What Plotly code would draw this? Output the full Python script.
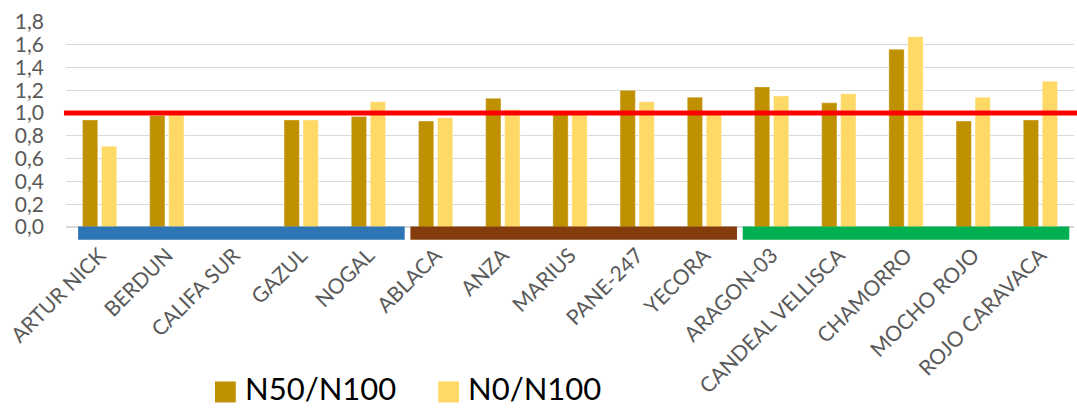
import plotly.graph_objects as go

# Varieties, grouped in three blocks of five
categories = [
    "ARTUR NICK", "BERDUN", "CALIFA SUR", "GAZUL", "NOGAL",
    "ABLACA", "ANZA", "MARIUS", "PANE-247", "YECORA",
    "ARAGON-03", "CANDEAL VELLISCA", "CHAMORRO", "MOCHO ROJO", "ROJO CARAVACA",
]

# Yield ratios relative to N100 (None = no data)
n50_n100 = [0.94, 0.98, None, 0.94, 0.97,
            0.93, 1.13, 1.00, 1.20, 1.14,
            1.23, 1.09, 1.56, 0.93, 0.94]
n0_n100 = [0.71, 1.00, None, 0.94, 1.10,
           0.96, 1.03, 1.00, 1.10, 1.00,
           1.15, 1.17, 1.67, 1.14, 1.28]

series_names = ["N50/N100", "N0/N100"]
series_colors = ["#BF9000", "#FFD966"]

reference_level = 1.0
y_ticks = [0.0, 0.2, 0.4, 0.6, 0.8, 1.0, 1.2, 1.4, 1.6, 1.8]

# Colour bands marking each group of five varieties
group_colors = ["#2E75B6", "#843C0C", "#00B050"]
group_size = 5

FONT = "Lato, Noto Sans, sans-serif"
TICK_GREY = "#595959"

fig = go.Figure()
for name, vals, col in zip(series_names, [n50_n100, n0_n100], series_colors):
    fig.add_trace(go.Bar(
        x=categories, y=vals, name=name,
        marker=dict(color=col, line=dict(color="rgba(255,255,255,0.35)", width=1)),
        showlegend=False,
    ))

shapes = []
# horizontal reference line at ratio 1
shapes.append(dict(type="line", xref="paper", yref="y",
                   x0=-0.002, x1=1.003, y0=reference_level, y1=reference_level,
                   line=dict(color="#FF0000", width=5), layer="above"))

# group bands under the axis
for g, col in enumerate(group_colors):
    x0 = g * group_size - 0.32 - 0.055 * g
    shapes.append(dict(type="rect", xref="x", yref="paper",
                       x0=x0, x1=x0 + 4.86,
                       y0=0.003, y1=-0.062,
                       fillcolor=col, line=dict(width=0), layer="above"))

# legend keys
annotations = []
legend_x = [0.1478, 0.3693]
for (lx, name, col) in zip(legend_x, series_names, series_colors):
    shapes.append(dict(type="rect", xref="paper", yref="paper",
                       x0=lx, x1=lx + 0.0206, y0=-0.7535, y1=-0.8558,
                       fillcolor=col, line=dict(width=0)))
    annotations.append(dict(xref="paper", yref="paper", x=lx + 0.029, y=-0.8836,
                            xanchor="left", yanchor="bottom", showarrow=False,
                            borderpad=0,
                            text=name, font=dict(family=FONT, size=31, color="#000000")))

fig.update_layout(
    width=1077, height=409,
    margin=dict(l=66, r=3, t=22, b=182, pad=0),
    paper_bgcolor="white", plot_bgcolor="white",
    barmode="group", bargap=0.435, bargroupgap=0.195,
    separators=",.",
    shapes=shapes, annotations=annotations,
    showlegend=False,
)
fig.update_xaxes(
    tickangle=-45, tickfont=dict(family=FONT, size=21, color=TICK_GREY),
    showgrid=False, showline=False, ticks="", ticklabelstandoff=11,
)
fig.update_yaxes(
    range=[0, 1.8], tickvals=y_ticks, tickformat=".1f",
    tickfont=dict(family=FONT, size=21, color=TICK_GREY),
    showgrid=True, gridcolor="#D9D9D9", gridwidth=1.3,
    zeroline=True, zerolinecolor="#D9D9D9", zerolinewidth=2,
    showline=False, ticks="", ticklabelstandoff=21,
)

fig.write_html("out.html")
